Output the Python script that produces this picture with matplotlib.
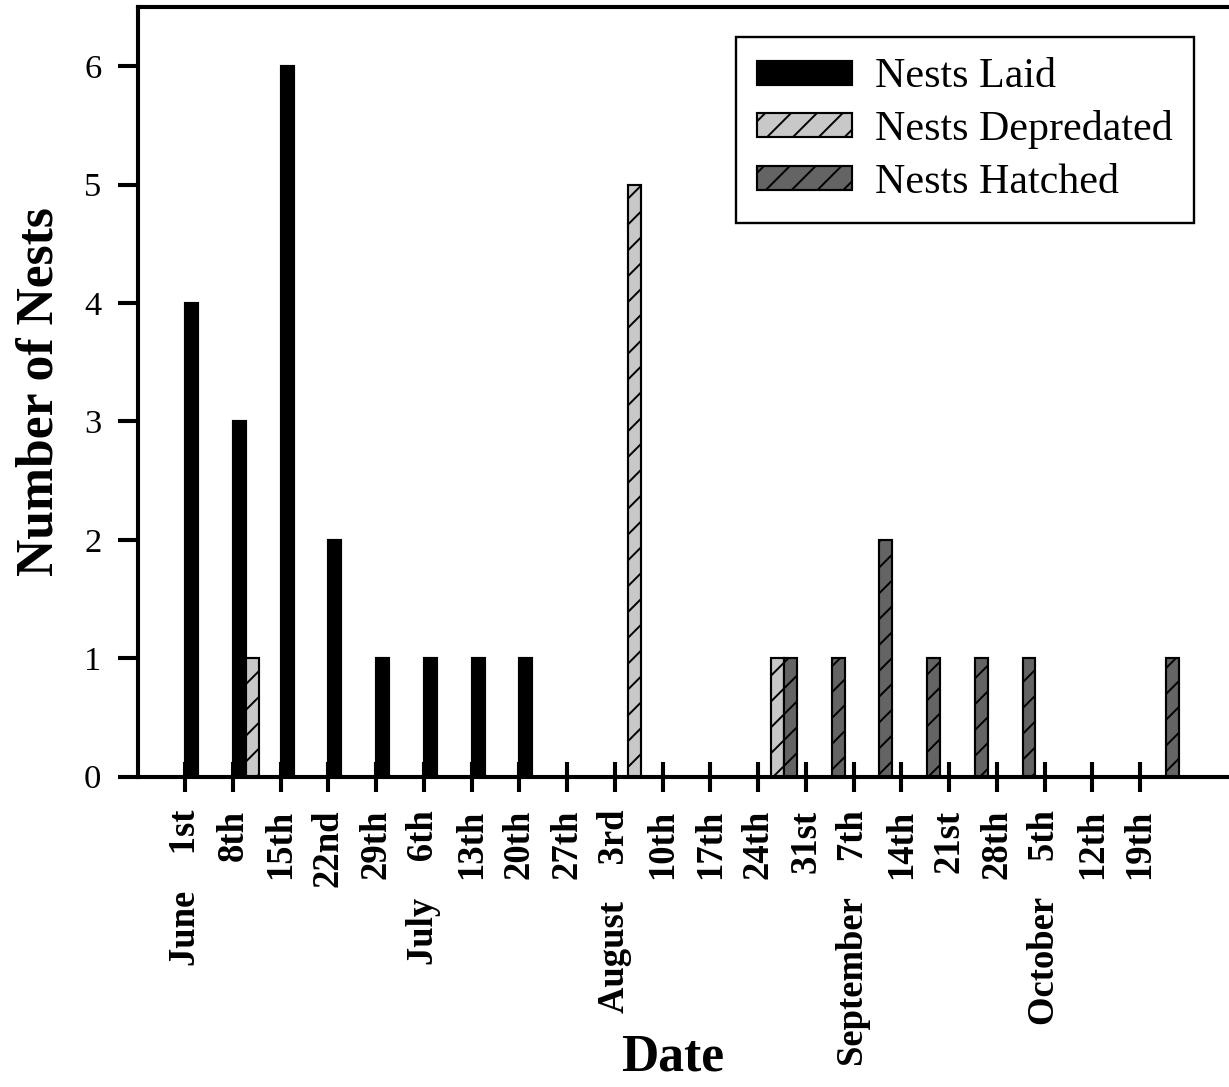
import numpy as np
import matplotlib
matplotlib.use('Agg')
import matplotlib.pyplot as plt

plt.rcParams['font.family'] = 'Liberation Serif'
plt.rcParams['hatch.linewidth'] = 0.9

# weekly counts, June 1st to October 19th
days = ['1st', '8th', '15th', '22nd', '29th', '6th', '13th', '20th', '27th', '3rd',
        '10th', '17th', '24th', '31st', '7th', '14th', '21st', '28th', '5th', '12th', '19th']
months = {0: 'June', 5: 'July', 9: 'August', 14: 'September', 18: 'October'}

laid = [4, 3, 6, 2, 1, 1, 1, 1, 0, 0, 0, 0, 0, 0, 0, 0, 0, 0, 0, 0, 0]
depredated = [0, 1, 0, 0, 0, 0, 0, 0, 0, 5, 0, 0, 1, 0, 0, 0, 0, 0, 0, 0, 0]
hatched = [0, 0, 0, 0, 0, 0, 0, 0, 0, 0, 0, 0, 1, 1, 2, 1, 1, 1, 0, 0, 1]

labels = [(months[i] + '    ' + d) if i in months else d for i, d in enumerate(days)]

dpi = 155
fig = plt.figure(figsize=(1229/dpi, 1087/dpi), dpi=dpi)
ax = fig.add_axes([0.1119, 0.2855, 0.8934, 0.7081])

x = np.arange(len(days))
w = 0.27
ax.bar(x, laid, w, align='edge', color='black', edgecolor='black', lw=1, label='Nests Laid')
ax.bar(x + w, depredated, w, align='edge', color='#c8c8c8', edgecolor='black',
       hatch='//', lw=1, label='Nests Depredated')
ax.bar(x + 2*w, hatched, w, align='edge', color='#646464', edgecolor='black',
       hatch='//', lw=1, label='Nests Hatched')

ax.set_xlim(-1, 22)
ax.set_ylim(0, 6.5)
ax.spines['right'].set_visible(False)
for s in ['left', 'top', 'bottom']:
    ax.spines[s].set_linewidth(1.9)

ax.set_xticks(x)
ax.set_xticklabels(labels, rotation=90, fontsize=17, fontweight='bold')
ax.set_yticks(range(7))
ax.tick_params(axis='x', direction='inout', length=13.9, width=1.9, pad=8.5)
ax.tick_params(axis='y', direction='out', length=9.3, width=1.9, pad=7.5, labelsize=16)

ax.set_ylabel('Number of Nests', fontsize=24, fontweight='bold')
ax.yaxis.set_label_coords(-0.067, 0.5)
ax.set_xlabel('Date', fontsize=24, fontweight='bold')
ax.xaxis.set_label_coords(0.487, -0.334)

leg = ax.legend(loc='upper right', bbox_to_anchor=(0.962, 0.961), fontsize=19.5,
                fancybox=False, framealpha=1, edgecolor='black', borderaxespad=0,
                handlelength=2.26, handleheight=0.5, handletextpad=0.55,
                labelspacing=0.33, borderpad=0.5)
leg.get_frame().set_linewidth(1.1)

fig.savefig('out.png', dpi=dpi)
